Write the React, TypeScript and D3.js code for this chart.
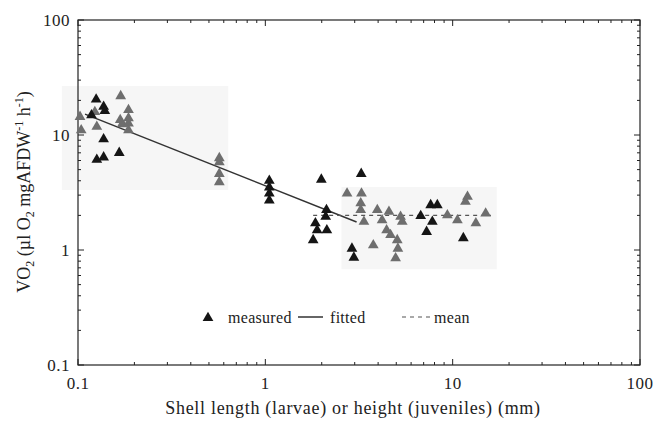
import * as d3 from "d3";
import React, { useRef, useEffect } from "react";

// measured points (the scan shows some darker, some lighter)
const darkPoints: [number, number][] = [
  [0.125, 20.4], [0.137, 17.6], [0.139, 16.2], [0.118, 14.9], [0.137, 9.2],
  [0.137, 6.4], [0.126, 6.1], [0.166, 7.0],
  [1.05, 4.0], [1.05, 3.5], [1.05, 3.1], [1.05, 2.7],
  [1.99, 4.1], [3.25, 4.6], [2.12, 2.23], [2.1, 1.95], [1.85, 1.71], [2.13, 1.49],
  [1.89, 1.49], [1.8, 1.22], [2.9, 1.03], [2.97, 0.86],
  [6.75, 1.98], [7.63, 2.46], [8.28, 2.46], [7.79, 1.76], [7.26, 1.44], [11.4, 1.27],
];

const lightPoints: [number, number][] = [
  [0.1025, 14.4], [0.104, 11.0], [0.123, 15.9], [0.126, 11.8], [0.169, 21.8],
  [0.168, 13.5], [0.172, 12.4], [0.186, 16.5], [0.186, 14.0], [0.186, 12.6], [0.186, 11.0],
  [0.568, 6.3], [0.568, 5.8], [0.568, 4.6], [0.568, 3.9],
  [2.73, 3.1], [3.26, 3.1], [3.23, 2.55], [3.23, 2.23], [3.36, 1.76], [3.96, 2.23],
  [4.57, 2.15], [4.2, 1.82], [4.44, 1.49], [3.77, 1.1], [4.66, 1.35], [5.06, 1.22],
  [5.1, 1.03], [4.96, 0.85], [5.27, 1.95], [5.38, 1.76],
  [9.37, 2.01], [10.6, 1.82], [11.7, 2.63], [12.0, 2.91], [13.3, 1.71], [15.0, 2.08],
];

const fittedLine: [number, number][] = [[0.109, 15.2], [3.07, 1.75]];
const meanLine: [number, number][] = [[1.8, 2.0], [16, 2.0]];

// faint grey patches from the scan: [x0, x1, y0, y1]
const shadeBoxes: [number, number, number, number][] = [
  [0.082, 0.634, 3.33, 26.7],
  [2.55, 17.2, 0.68, 3.53],
];

const decadeLabels = [0.1, 1, 10, 100];

const FONT = "'Liberation Serif', 'Times New Roman', serif";

const App = () => {
  const svgRef = useRef<SVGSVGElement>(null);

  useEffect(() => {
    const svg = d3.select(svgRef.current);
    svg.selectAll("*").remove();

    const W = 654;
    const H = 434;
    const margin = { top: 20, right: 14, bottom: 69, left: 78 };
    const width = W - margin.left - margin.right;
    const height = H - margin.top - margin.bottom;

    svg.attr("width", W).attr("height", H);
    svg.append("rect").attr("width", W).attr("height", H).attr("fill", "#fff");

    const g = svg.append("g").attr("transform", `translate(${margin.left},${margin.top})`);

    const x = d3.scaleLog().domain([0.1, 100]).range([0, width]);
    const y = d3.scaleLog().domain([0.1, 100]).range([height, 0]);

    // scan shading
    g.selectAll(".shade")
      .data(shadeBoxes)
      .enter()
      .append("rect")
      .attr("x", (d) => x(d[0]))
      .attr("width", (d) => x(d[1]) - x(d[0]))
      .attr("y", (d) => y(d[3]))
      .attr("height", (d) => y(d[2]) - y(d[3]))
      .attr("fill", "#f6f6f6");

    // frame
    g.append("rect")
      .attr("width", width)
      .attr("height", height)
      .attr("fill", "none")
      .attr("stroke", "#222")
      .attr("stroke-width", 1.2);

    // inward log ticks on all sides
    const tickVals = x.ticks();
    const isMajor = (v: number) => Math.abs(Math.log10(v) - Math.round(Math.log10(v))) < 1e-6;
    const tickG = g.append("g").attr("stroke", "#222").attr("stroke-width", 1);
    tickVals.forEach((v) => {
      const len = isMajor(v) ? 6 : 3;
      const px = x(v);
      const py = y(v);
      tickG.append("line").attr("x1", px).attr("x2", px).attr("y1", height).attr("y2", height - len);
      tickG.append("line").attr("x1", px).attr("x2", px).attr("y1", 0).attr("y2", len);
      tickG.append("line").attr("x1", 0).attr("x2", len).attr("y1", py).attr("y2", py);
      tickG.append("line").attr("x1", width).attr("x2", width - len).attr("y1", py).attr("y2", py);
    });

    // tick labels
    g.selectAll(".xlab")
      .data(decadeLabels)
      .enter()
      .append("text")
      .attr("x", (d) => x(d))
      .attr("y", height + 24)
      .attr("text-anchor", "middle")
      .style("font-family", FONT)
      .style("font-size", "17px")
      .style("letter-spacing", "0.5px")
      .attr("fill", "#222")
      .text((d) => String(d));

    g.selectAll(".ylab")
      .data(decadeLabels)
      .enter()
      .append("text")
      .attr("x", -8)
      .attr("y", (d) => y(d) + 6)
      .attr("text-anchor", "end")
      .style("font-family", FONT)
      .style("font-size", "17px")
      .style("letter-spacing", "0.5px")
      .attr("fill", "#222")
      .text((d) => String(d));

    // fitted line
    const line = d3
      .line<[number, number]>()
      .x((d) => x(d[0]))
      .y((d) => y(d[1]));

    g.append("path")
      .datum(fittedLine)
      .attr("d", line)
      .attr("fill", "none")
      .attr("stroke", "#333")
      .attr("stroke-width", 1.5);

    g.append("path")
      .datum(meanLine)
      .attr("d", line)
      .attr("fill", "none")
      .attr("stroke", "#555")
      .attr("stroke-width", 1.2)
      .attr("stroke-dasharray", "4 4");

    // triangles
    const tri = d3.symbol().type(d3.symbolTriangle).size(50);
    g.selectAll(".light")
      .data(lightPoints)
      .enter()
      .append("path")
      .attr("d", tri)
      .attr("transform", (d) => `translate(${x(d[0])},${y(d[1])})`)
      .attr("fill", "#6e6e6e");

    g.selectAll(".dark")
      .data(darkPoints)
      .enter()
      .append("path")
      .attr("d", tri)
      .attr("transform", (d) => `translate(${x(d[0])},${y(d[1])})`)
      .attr("fill", "#151515");

    // legend
    const leg = svg.append("g").style("font-family", FONT).style("font-size", "16px").attr("fill", "#222");
    leg.append("path").attr("d", tri).attr("transform", "translate(208,318)").attr("fill", "#151515");
    leg.append("text").attr("x", 228).attr("y", 323).style("letter-spacing", "0.3px").text("measured");
    leg.append("line").attr("x1", 298).attr("x2", 323).attr("y1", 317).attr("y2", 317)
      .attr("stroke", "#333").attr("stroke-width", 1.5);
    leg.append("text").attr("x", 330).attr("y", 323).style("letter-spacing", "0.3px").text("fitted");
    leg.append("line").attr("x1", 402).attr("x2", 430).attr("y1", 317).attr("y2", 317)
      .attr("stroke", "#555").attr("stroke-width", 1.2).attr("stroke-dasharray", "4 4");
    leg.append("text").attr("x", 434).attr("y", 323).style("letter-spacing", "0.3px").text("mean");

    // axis titles
    svg.append("text")
      .attr("x", 353)
      .attr("y", 414)
      .attr("text-anchor", "middle")
      .style("font-family", FONT)
      .style("font-size", "18px")
      .style("letter-spacing", "0.7px")
      .attr("fill", "#222")
      .text("Shell length (larvae) or height (juveniles) (mm)");

    const yt = svg.append("text")
      .attr("transform", "translate(30,192) rotate(-90)")
      .attr("text-anchor", "middle")
      .style("font-family", FONT)
      .style("font-size", "18px")
      .attr("fill", "#222");
    yt.append("tspan").text("VO");
    yt.append("tspan").attr("dy", 4).style("font-size", "12px").text("2");
    yt.append("tspan").attr("dy", -4).text(" (µl O");
    yt.append("tspan").attr("dy", 4).style("font-size", "12px").text("2");
    yt.append("tspan").attr("dy", -4).text(" mgAFDW");
    yt.append("tspan").attr("dy", -7).style("font-size", "12px").text("-1");
    yt.append("tspan").attr("dy", 7).text(" h");
    yt.append("tspan").attr("dy", -7).style("font-size", "12px").text("-1");
    yt.append("tspan").attr("dy", 7).text(")");
  }, []);

  return (
    <div style={{ position: "absolute", left: 0, top: 0 }}>
      <svg ref={svgRef} style={{ display: "block" }}></svg>
    </div>
  );
};

export default App;
